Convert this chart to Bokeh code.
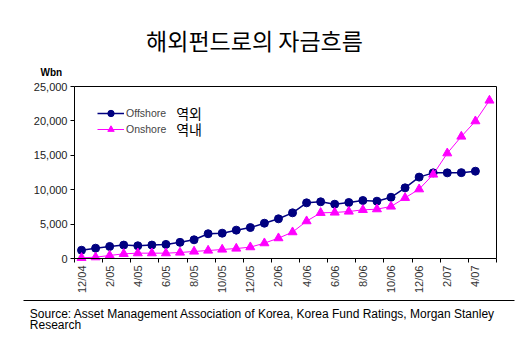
import math
from bokeh.plotting import figure
from bokeh.models import (Range1d, FixedTicker, NumeralTickFormatter, Label, Legend,
                          LinearAxis)
from bokeh.embed import file_html
from bokeh.resources import INLINE

# ---- data ----
months = ["12/04", "1/05", "2/05", "3/05", "4/05", "5/05", "6/05", "7/05", "8/05", "9/05",
          "10/05", "11/05", "12/05", "1/06", "2/06", "3/06", "4/06", "5/06", "6/06", "7/06",
          "8/06", "9/06", "10/06", "11/06", "12/06", "1/07", "2/07", "3/07", "4/07", "5/07"]
offshore = [1200, 1500, 1750, 1950, 1850, 1950, 2050, 2350, 2720, 3600,
            3680, 4120, 4500, 5130, 5770, 6640, 8090, 8240, 7890, 8140,
            8430, 8330, 8900, 10270, 11830, 12450, 12450, 12480, 12690]
onshore = [100, 190, 440, 680, 775, 775, 775, 870, 1020, 1160,
           1310, 1450, 1650, 2230, 2960, 3830, 5430, 6640, 6690, 6830,
           7070, 7170, 7560, 8820, 10070, 12210, 15300, 17730, 19960, 22970]
y_ticks = [0, 5000, 10000, 15000, 20000, 25000]
y_max = 25000
title_text = "해외펀드로의 자금흐름"
unit_text = "Wbn"
series_names = ["Offshore", "Onshore"]
series_kr = ["역외", "역내"]
source_lines = ["Source: Asset Management Association of Korea, Korea Fund Ratings, Morgan Stanley",
                "Research"]

NAVY = "#000080"
MAGENTA = "#FF00FF"
FONT = "Liberation Sans"
KFONT = "Noto Sans CJK KR"

# ---- layout (pixels) ----
W, H = 520, 356
BOX_L, BOX_R, BOX_T, BOX_B = 74, 496, 86, 258      # plot box in canvas pixels
RULE_Y, RULE_L, RULE_R = 299.5, 23, 514             # separator rule

n = len(months)
cw = (BOX_R - BOX_L) / n                    # pixels per category
x0 = -0.5 - BOX_L / cw
x1 = -0.5 + (W - BOX_L) / cw
py = (BOX_B - BOX_T) / y_max                 # pixels per unit
y1 = y_max + BOX_T / py
y0 = -(H - BOX_B) / py

def xdata(px):
    return -0.5 + (px - BOX_L) / cw

def ydata(px):
    return (BOX_B - px) / py

x_off = list(range(len(offshore)))
x_on = list(range(len(onshore)))

p = figure(width=W, height=H, x_range=Range1d(x0, x1), y_range=Range1d(y0, y1),
           output_backend="svg", toolbar_location=None, title=None,
           min_border_left=0, min_border_right=0, min_border_top=0, min_border_bottom=0)
p.grid.visible = False
p.outline_line_color = None
p.background_fill_color = "white"
p.border_fill_color = "white"

# x axis (bottom of plot box)
xa = p.xaxis[0]
xa.fixed_location = 0
xa.bounds = (-0.5, n - 0.5)
xa.ticker = FixedTicker(ticks=list(range(0, n, 2)),
                        minor_ticks=[k - 0.5 for k in range(0, n + 1, 2)])
xa.major_label_overrides = {i: months[i] for i in range(0, n, 2)}
xa.major_label_orientation = math.pi / 2
xa.major_tick_out = 0
xa.major_tick_in = 0
xa.minor_tick_out = 4
xa.minor_tick_in = 0
xa.minor_tick_line_color = "black"
xa.major_label_standoff = 3
xa.major_label_text_font = FONT
xa.major_label_text_font_size = "11px"
xa.major_label_text_color = "#333333"
xa.axis_line_color = "black"

# y axis (left side of plot box)
ya = p.yaxis[0]
ya.fixed_location = -0.5
ya.bounds = (0, y_max)
ya.ticker = FixedTicker(ticks=y_ticks)
ya.formatter = NumeralTickFormatter(format="0,0")
ya.major_tick_out = 4
ya.major_tick_in = 0
ya.minor_tick_line_color = None
ya.major_label_standoff = 3
ya.major_label_text_font = FONT
ya.major_label_text_font_size = "11px"
ya.major_label_text_color = "#222222"
ya.axis_line_color = "black"

def bare_axis(**kw):
    return LinearAxis(ticker=FixedTicker(ticks=[]), major_tick_out=0, major_tick_in=0,
                      minor_tick_out=0, minor_tick_in=0, major_label_standoff=0,
                      axis_line_color="black", axis_line_width=1, **kw)

# top and right edges of the plot box
p.add_layout(bare_axis(fixed_location=y_max, bounds=(-0.5, n - 0.5)), "above")
p.add_layout(bare_axis(fixed_location=n - 0.5, bounds=(0, y_max)), "right")
# separator rule above the source note
p.add_layout(bare_axis(fixed_location=ydata(RULE_Y), bounds=(xdata(RULE_L), xdata(RULE_R))),
             "below")

r1 = p.line(x_off, offshore, line_color=NAVY, line_width=1.5)
r1m = p.scatter(x_off, offshore, marker="circle", size=8, fill_color=NAVY, line_color=NAVY)
r2 = p.line(x_on, onshore, line_color=MAGENTA, line_width=1)
r2m = p.scatter(x_on, onshore, marker="triangle", size=9, fill_color=MAGENTA, line_color=MAGENTA)

legend = Legend(items=[(series_names[0], [r1, r1m]), (series_names[1], [r2, r2m])],
                location=(97, H - 136.5), margin=0, padding=5, spacing=0,
                glyph_width=27, glyph_height=16, label_height=16, label_standoff=2,
                label_text_font=FONT, label_text_font_size="10.5px",
                border_line_color=None, background_fill_alpha=0)
p.add_layout(legend)

# free texts, positioned in canvas pixels (x from left, y from top)
def txt(x, y, s, font, size, style="normal", align="left"):
    p.add_layout(Label(x=x, y=H - y, x_units="screen", y_units="screen", text=s,
                       text_font=font, text_font_size=size, text_font_style=style,
                       text_baseline="middle", text_align=align, text_color="black"))

txt(40, 72, unit_text, FONT, "10px", "bold")
txt(254, 39, title_text, KFONT, "23px", align="center")
txt(175.7, 112, series_kr[0], KFONT, "14px")
txt(175.7, 128.8, series_kr[1], KFONT, "14px")
txt(29.3, 313, source_lines[0], FONT, "12px")
txt(29.3, 324, source_lines[1], FONT, "12px")

open("out.html", "w").write(file_html(p, INLINE))
